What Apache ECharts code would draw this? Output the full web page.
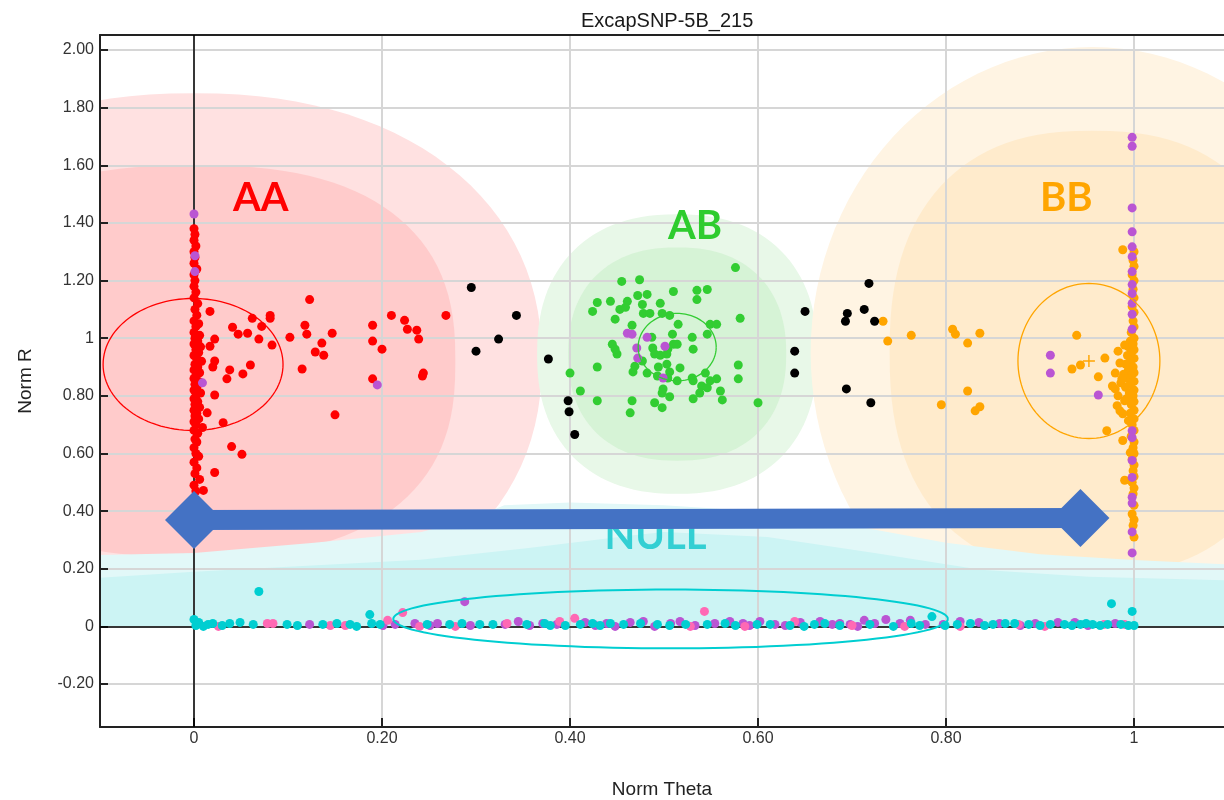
<!DOCTYPE html>
<html>
<head>
<meta charset="UTF-8">
<script src="https://cdn.jsdelivr.net/npm/echarts@6.0.0/dist/echarts.min.js"></script>
<style>
  html, body { margin: 0; padding: 0; background: #fff; }
  #chart { width: 1224px; height: 800px; }
</style>
</head>
<body>
<div id="chart"></div>
<script>
// axis ticks
var xTickValues = [0, 0.2, 0.4, 0.6, 0.8, 1];
var yTickValues = [-0.2, 0, 0.2, 0.4, 0.6, 0.8, 1, 1.2, 1.4, 1.6, 1.8, 2.0];

// AA calls: column at theta ~ 0 and the scattered ones
var aaColumn = [[0.000,1.380],[0.001,1.360],[0.000,1.340],[0.002,1.320],[0.000,1.300],[0.001,1.280],[0.000,1.260],[0.003,1.240],[0.000,1.220],[0.001,1.200],[0.000,1.180],[0.002,1.160],[0.000,1.140],[0.004,1.120],[0.001,1.100],[0.003,1.080],[0.000,1.060],[0.005,1.050],[0.002,1.040],[0.000,1.020],[0.006,1.010],[0.001,1.000],[0.004,0.990],[0.000,0.980],[0.007,0.970],[0.002,0.960],[0.005,0.950],[0.000,0.940],[0.003,0.930],[0.008,0.920],[0.001,0.910],[0.004,0.900],[0.000,0.890],[0.006,0.880],[0.002,0.870],[0.000,0.860],[0.005,0.850],[0.001,0.840],[0.003,0.830],[0.000,0.820],[0.007,0.810],[0.002,0.800],[0.000,0.790],[0.004,0.780],[0.001,0.770],[0.006,0.760],[0.000,0.750],[0.003,0.740],[0.001,0.730],[0.005,0.720],[0.000,0.710],[0.002,0.700],[0.009,0.690],[0.000,0.680],[0.004,0.670],[0.001,0.650],[0.003,0.640],[0.000,0.620],[0.002,0.600],[0.005,0.590],[0.000,0.570],[0.003,0.550],[0.001,0.530],[0.006,0.510],[0.000,0.490],[0.002,0.470]];
var aaPoints = [[0.017,1.093],[0.041,1.038],[0.047,1.014],[0.062,1.069],[0.072,1.041],[0.081,1.079],[0.081,1.069],[0.057,1.017],[0.069,0.997],[0.083,0.976],[0.022,0.997],[0.017,0.972],[0.022,0.921],[0.020,0.900],[0.038,0.890],[0.035,0.859],[0.060,0.907],[0.052,0.876],[0.022,0.803],[0.014,0.741],[0.031,0.707],[0.040,0.624],[0.051,0.597],[0.022,0.534],[0.010,0.472],[0.123,1.134],[0.102,1.003],[0.118,1.045],[0.120,1.014],[0.147,1.017],[0.136,0.983],[0.129,0.952],[0.138,0.941],[0.115,0.893],[0.150,0.734],[0.190,1.045],[0.190,0.990],[0.200,0.962],[0.190,0.859],[0.210,1.079],[0.224,1.062],[0.227,1.031],[0.237,1.028],[0.239,0.997],[0.243,0.869],[0.244,0.879],[0.268,1.079]];

// AB calls
var abPoints = [[0.576,1.245],[0.455,1.197],[0.474,1.203],[0.510,1.162],[0.535,1.166],[0.546,1.169],[0.535,1.134],[0.472,1.148],[0.482,1.152],[0.429,1.124],[0.424,1.093],[0.443,1.128],[0.453,1.100],[0.461,1.128],[0.459,1.107],[0.448,1.066],[0.477,1.117],[0.478,1.086],[0.485,1.086],[0.496,1.121],[0.498,1.086],[0.506,1.079],[0.581,1.069],[0.466,1.045],[0.515,1.048],[0.549,1.048],[0.556,1.048],[0.546,1.014],[0.487,1.003],[0.509,1.014],[0.510,0.979],[0.530,1.003],[0.531,0.962],[0.445,0.979],[0.450,0.945],[0.448,0.962],[0.488,0.966],[0.490,0.945],[0.504,0.962],[0.514,0.979],[0.496,0.941],[0.503,0.945],[0.429,0.900],[0.400,0.879],[0.469,0.903],[0.467,0.883],[0.477,0.921],[0.482,0.879],[0.494,0.900],[0.503,0.910],[0.506,0.883],[0.493,0.869],[0.504,0.862],[0.517,0.897],[0.514,0.852],[0.530,0.862],[0.531,0.852],[0.544,0.879],[0.549,0.852],[0.556,0.859],[0.540,0.834],[0.546,0.828],[0.538,0.810],[0.579,0.907],[0.579,0.859],[0.499,0.824],[0.498,0.810],[0.560,0.817],[0.562,0.786],[0.411,0.817],[0.531,0.790],[0.506,0.797],[0.429,0.783],[0.466,0.783],[0.464,0.741],[0.490,0.776],[0.498,0.759],[0.600,0.776]];

// BB calls: column at theta ~ 1 and the scattered ones
var bbColumn = [[1.000,1.300],[0.999,1.270],[1.000,1.250],[0.998,1.220],[1.000,1.200],[0.999,1.170],[1.000,1.140],[0.998,1.110],[1.000,1.090],[0.999,1.060],[1.000,1.040],[0.997,1.020],[1.000,1.000],[0.996,0.990],[0.999,0.980],[0.994,0.970],[1.000,0.960],[0.997,0.950],[0.993,0.940],[1.000,0.930],[0.996,0.920],[0.991,0.910],[0.999,0.900],[0.994,0.890],[1.000,0.880],[0.989,0.875],[0.997,0.870],[0.993,0.860],[1.000,0.850],[0.986,0.845],[0.996,0.840],[0.991,0.830],[1.000,0.820],[0.995,0.810],[0.999,0.800],[0.992,0.790],[1.000,0.780],[0.997,0.770],[1.000,0.750],[0.996,0.740],[1.000,0.720],[0.998,0.700],[1.000,0.680],[0.997,0.660],[1.000,0.640],[0.999,0.620],[1.000,0.600],[0.998,0.580],[1.000,0.560],[0.999,0.540],[1.000,0.520],[0.998,0.500],[1.000,0.480],[0.999,0.460],[1.000,0.420],[0.998,0.390],[1.000,0.370],[0.999,0.350],[1.000,0.310]];
var bbPoints = [[0.733,1.059],[0.738,0.990],[0.763,1.010],[0.807,1.031],[0.810,1.014],[0.836,1.017],[0.823,0.983],[0.823,0.817],[0.795,0.769],[0.831,0.748],[0.836,0.762],[0.939,1.010],[0.934,0.893],[0.943,0.907],[0.969,0.931],[0.962,0.866],[0.971,0.679],[0.988,0.645],[0.980,0.824],[0.982,0.766],[0.988,0.738],[0.990,0.976],[0.990,0.507],[0.988,1.307],[0.983,0.955],[0.985,0.914],[0.980,0.879],[0.987,0.859],[0.977,0.834],[0.983,0.800],[0.990,0.783],[0.985,0.748],[0.994,0.714],[0.996,0.603],[0.996,0.507]];

// no calls
var noCallPoints = [[0.295,1.176],[0.300,0.955],[0.324,0.997],[0.343,1.079],[0.377,0.928],[0.398,0.783],[0.399,0.745],[0.405,0.666],[0.639,0.955],[0.639,0.879],[0.650,1.093],[0.693,1.059],[0.695,1.086],[0.713,1.100],[0.718,1.190],[0.724,1.059],[0.694,0.824],[0.720,0.776]];

// purple samples
var purpleAA = [[0.000,1.431],[0.001,1.286],[0.001,1.231],[0.009,0.845],[0.195,0.838]];
var purpleAB = [[0.461,1.017],[0.466,1.014],[0.482,1.003],[0.471,0.966],[0.501,0.972],[0.499,0.862],[0.472,0.931]];
var purpleBB = [[0.998,1.697],[0.998,1.666],[0.998,1.452],[0.998,1.369],[0.998,1.317],[0.998,1.283],[0.998,1.231],[0.998,1.186],[0.998,1.155],[0.998,1.121],[0.998,1.083],[0.998,1.031],[0.998,0.679],[0.998,0.655],[0.998,0.576],[0.998,0.517],[0.998,0.448],[0.998,0.428],[0.998,0.328],[0.998,0.255],[0.911,0.941],[0.911,0.879],[0.962,0.803]];
var purpleNull = [[0.123,0.007],[0.201,0.003],[0.214,0.007],[0.235,0.010],[0.251,0.003],[0.259,0.010],[0.288,0.086],[0.294,0.003],[0.331,0.007],[0.345,0.017],[0.357,0.003],[0.371,0.010],[0.386,0.007],[0.416,0.014],[0.427,0.003],[0.439,0.010],[0.448,0.000],[0.464,0.014],[0.478,0.017],[0.490,0.000],[0.507,0.010],[0.517,0.017],[0.533,0.003],[0.554,0.010],[0.570,0.017],[0.584,0.010],[0.591,0.003],[0.602,0.017],[0.618,0.007],[0.629,0.003],[0.645,0.014],[0.666,0.017],[0.679,0.007],[0.687,0.010],[0.698,0.007],[0.706,0.000],[0.713,0.021],[0.724,0.010],[0.736,0.024],[0.751,0.010],[0.762,0.021],[0.778,0.007],[0.797,0.007],[0.815,0.017],[0.835,0.014],[0.857,0.010],[0.879,0.003],[0.895,0.010],[0.919,0.014],[0.937,0.014],[0.951,0.003],[0.980,0.010]];

// NULL calls
var pinkNull = [[0.026,0.000],[0.078,0.010],[0.084,0.010],[0.145,0.003],[0.161,0.003],[0.206,0.021],[0.222,0.048],[0.240,0.000],[0.278,0.000],[0.333,0.010],[0.389,0.017],[0.405,0.028],[0.528,0.000],[0.543,0.052],[0.586,0.000],[0.639,0.017],[0.700,0.003],[0.756,0.000],[0.815,0.000],[0.877,0.007],[0.905,0.000],[0.968,0.007],[0.990,0.007]];
var cyanNull = [[0.000,0.024],[0.002,0.003],[0.005,0.014],[0.010,0.000],[0.015,0.007],[0.020,0.010],[0.030,0.003],[0.038,0.010],[0.049,0.014],[0.063,0.007],[0.069,0.121],[0.099,0.007],[0.110,0.003],[0.137,0.007],[0.152,0.010],[0.166,0.007],[0.173,0.000],[0.187,0.041],[0.189,0.010],[0.198,0.007],[0.248,0.007],[0.272,0.007],[0.285,0.010],[0.304,0.007],[0.318,0.007],[0.354,0.007],[0.373,0.010],[0.379,0.003],[0.395,0.003],[0.411,0.007],[0.424,0.010],[0.432,0.003],[0.443,0.010],[0.457,0.007],[0.475,0.010],[0.493,0.007],[0.506,0.003],[0.523,0.007],[0.546,0.007],[0.565,0.010],[0.576,0.003],[0.599,0.007],[0.613,0.007],[0.634,0.003],[0.649,0.000],[0.660,0.007],[0.671,0.010],[0.687,0.003],[0.719,0.007],[0.744,0.000],[0.763,0.010],[0.772,0.003],[0.785,0.034],[0.799,0.003],[0.812,0.007],[0.826,0.010],[0.841,0.003],[0.850,0.007],[0.863,0.010],[0.873,0.010],[0.888,0.007],[0.900,0.003],[0.911,0.007],[0.926,0.007],[0.934,0.003],[0.943,0.007],[0.949,0.010],[0.956,0.007],[0.964,0.003],[0.972,0.007],[0.976,0.079],[0.986,0.007],[0.994,0.003],[0.998,0.052],[1.000,0.003]];

// cluster probability regions [theta, R] centres and radii
var aaShadeCenter = [0.0, 0.92], aaShadeOuter = [0.37, 0.93], aaShadeInner = [0.278, 0.68];
var abShadeCenter = [0.514, 0.945], abShadeOuter = [0.149, 0.485], abShadeInner = [0.116, 0.37];
var bbShadeCenter = [0.956, 0.95], bbShadeOuter = [0.30, 1.06], bbShadeInner = [0.216, 0.77];
// NULL region upper edges
var nullOuterTop = [[-0.1,0.248],[0.0,0.255],[0.128,0.29],[0.242,0.328],[0.30,0.38],[0.33,0.42],[0.4,0.43],[0.5,0.42],[0.6,0.40],[0.7,0.35],[0.8,0.29],[0.9,0.25],[1.0,0.23],[1.1,0.215]];
var nullInnerTop = [[-0.1,0.169],[0.0,0.19],[0.241,0.231],[0.356,0.272],[0.47,0.317],[0.5,0.328],[0.61,0.31],[0.724,0.255],[0.837,0.197],[0.952,0.172],[1.1,0.16]];

// cluster ovals: AA, AB, BB, NULL
var ovalCenters = [[-0.001,0.909],[0.514,0.969],[0.952,0.921],[0.507,0.026]];
var ovalRadii = [[0.0957,0.229],[0.0415,0.117],[0.0755,0.269],[0.295,0.102]];

var genotypeNames = ['AA', 'AB', 'BB', 'NULL'];
var labelAnchors = [[0.071,1.487],[0.533,1.389],[0.928,1.487],[0.491,0.314]];
var arrowEnds = [[0, 0.369], [0.943, 0.376]];

var genoColors = ['#ff0000', '#33cc33', '#ffa500', '#00ced1'];
var labelColors = ['#ff0000', '#2ecc2e', '#ffa500', '#33cfd3'];

var X_MIN = -0.1, X_MAX = 1.0957;

function tickText(v) {
    if (v === 0) return '0';
    if (v === 1) return '1';
    return v.toFixed(2);
}

// super-ellipse outline in data space, clamped at R = 0
function blob(api, c, r, n, clampZero) {
    var pts = [];
    for (var i = 0; i <= 120; i++) {
        var t = i / 120 * Math.PI * 2;
        var ct = Math.cos(t), st = Math.sin(t);
        var x = c[0] + r[0] * Math.sign(ct) * Math.pow(Math.abs(ct), 2 / n);
        var y = c[1] + r[1] * Math.sign(st) * Math.pow(Math.abs(st), 2 / n);
        if (clampZero) y = Math.max(y, 0);
        pts.push(api.coord([x, y]));
    }
    return pts;
}

var shadeShapes = [
    [aaShadeCenter, aaShadeOuter, 2.2, '#ffe1e1'],
    [aaShadeCenter, aaShadeInner, 2.5, '#ffcbcb'],
    [abShadeCenter, abShadeOuter, 2.3, '#e8f8e8'],
    [abShadeCenter, abShadeInner, 2.3, '#d6f3d6'],
    [bbShadeCenter, bbShadeOuter, 2.0, '#fff4e3'],
    [bbShadeCenter, bbShadeInner, 2.4, '#ffebcc']
];
var nullBands = [[nullOuterTop, '#e2f8f8'], [nullInnerTop, '#ccf4f4']];

function dots(name, data, color) {
    return {
        type: 'scatter', name: name, data: data, symbolSize: 9,
        itemStyle: { color: color, opacity: 1 }, silent: true, z: 2
    };
}

var option = {
    animation: false,
    title: {
        text: 'ExcapSNP-5B_215',
        left: 576, top: 6,
        textStyle: { fontFamily: 'Liberation Sans', fontSize: 20, fontWeight: 'normal', color: '#1a1a1a' }
    },
    grid: { left: 100, top: 35, right: 0, bottom: 73, outerBoundsMode: 'none', containLabel: false },
    xAxis: [{
        type: 'value', min: X_MIN, max: X_MAX, splitNumber: 6,
        name: 'Norm Theta', nameLocation: 'middle', nameGap: 53,
        nameTextStyle: { fontFamily: 'Liberation Sans', fontSize: 19, color: '#222' },
        axisLine: { onZero: false, lineStyle: { color: '#222', width: 2 } },
        axisTick: { customValues: xTickValues, inside: true, length: 9, lineStyle: { color: '#222', width: 2 } },
        axisLabel: { customValues: xTickValues, formatter: tickText, margin: 4, fontFamily: 'Liberation Sans', fontSize: 16, color: '#333' },
        splitLine: { show: true, lineStyle: { color: '#d6d6d6', width: 2 } }
    }, {
        // top frame line
        type: 'value', position: 'top', min: X_MIN, max: X_MAX,
        axisLine: { show: true, onZero: false, lineStyle: { color: '#222', width: 2 } },
        axisTick: { show: false }, axisLabel: { show: false }, splitLine: { show: false }
    }],
    yAxis: {
        type: 'value', min: -0.349, max: 2.052, splitNumber: 12,
        name: 'Norm R', nameLocation: 'middle', nameGap: 65, nameRotate: 90,
        nameTextStyle: { fontFamily: 'Liberation Sans', fontSize: 19, color: '#222' },
        axisLine: { onZero: false, lineStyle: { color: '#222', width: 2 } },
        axisTick: { customValues: yTickValues, inside: true, length: 8, lineStyle: { color: '#222', width: 2 } },
        axisLabel: { customValues: yTickValues, formatter: tickText, margin: 6, fontFamily: 'Liberation Sans', fontSize: 16, color: '#333' },
        splitLine: { show: true, lineStyle: { color: '#d6d6d6', width: 2 } }
    },
    series: [
        {
            type: 'custom', name: 'shade', z: -1, silent: true, clip: true,
            data: shadeShapes.map(function (s, i) { return [i]; }),
            renderItem: function (params, api) {
                var s = shadeShapes[params.dataIndex];
                return { type: 'polygon', z2: params.dataIndex, shape: { points: blob(api, s[0], s[1], s[2], true) }, style: { fill: s[3] } };
            }
        },
        {
            type: 'custom', name: 'nullShade', z: -1, silent: true, clip: true,
            data: nullBands.map(function (b, i) { return [i]; }),
            renderItem: function (params, api) {
                var b = nullBands[params.dataIndex];
                var pts = b[0].map(function (p) { return api.coord(p); });
                pts.push(api.coord([1.1, 0]));
                pts.push(api.coord([-0.1, 0]));
                return { type: 'polygon', z2: 10 + params.dataIndex, shape: { points: pts }, style: { fill: b[1] } };
            },
            markLine: {
                silent: true, symbol: 'none', z: 1,
                label: { show: false },
                lineStyle: { color: '#000', width: 1.5, type: 'solid' },
                data: [{ xAxis: 0 }, { yAxis: 0 }]
            }
        },
        dots('AA', aaColumn.concat(aaPoints), '#ff0000'),
        dots('AB', abPoints, '#32cd32'),
        dots('BB', bbColumn.concat(bbPoints), '#ffa500'),
        dots('NC', noCallPoints, '#000000'),
        dots('purple', purpleAA.concat(purpleAB, purpleBB, purpleNull), '#ba55d3'),
        dots('pink', pinkNull, '#ff69b4'),
        dots('cyan', cyanNull, '#00ced1'),
        {
            type: 'custom', name: 'ovals', z: 3, silent: true, clip: true,
            data: ovalCenters.map(function (c, i) { return [i]; }),
            renderItem: function (params, api) {
                var i = params.dataIndex;
                return {
                    type: 'polyline',
                    shape: { points: blob(api, ovalCenters[i], ovalRadii[i], 2, false) },
                    style: { stroke: genoColors[i], fill: 'none', lineWidth: i === 3 ? 2 : 1.3 }
                };
            }
        },
        {
            type: 'scatter', name: 'bbCentre', silent: true, z: 3,
            data: [ovalCenters[2]],
            symbol: 'path://M0,4.5h10v1.2h-10z M4.4,0h1.2v10h-1.2z',
            symbolSize: 12, itemStyle: { color: '#ffa500', opacity: 1 }
        },
        {
            type: 'scatter', name: 'labels', silent: true, z: 4,
            symbolSize: 1, itemStyle: { color: 'rgba(0,0,0,0)', opacity: 1 },
            data: genotypeNames.map(function (n, i) {
                return { name: n, value: labelAnchors[i], label: { color: labelColors[i] } };
            }),
            label: {
                show: true, position: 'inside', formatter: '{b}', opacity: 1,
                fontFamily: 'Lato', fontWeight: 'bold', fontSize: 40
            }
        },
        {
            type: 'line', name: 'arrow', silent: true, z: 5,
            data: arrowEnds,
            symbol: 'diamond', symbolSize: 58, showSymbol: true,
            lineStyle: { color: '#4472c4', width: 20 },
            itemStyle: { color: '#4472c4' }
        }
    ]
};

var myChart = echarts.init(document.getElementById('chart'));
myChart.setOption(option);
</script>
</body>
</html>
